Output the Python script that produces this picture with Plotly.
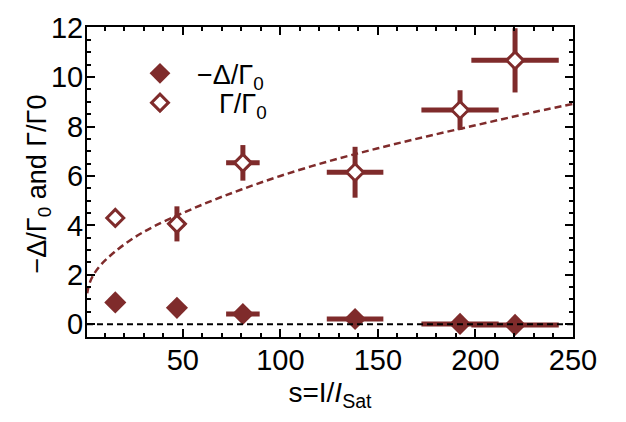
import plotly.graph_objects as go

# Saturation parameter s = I / I_sat for each measurement
s_vals = [15.4, 47.0, 80.8, 138.3, 192.1, 220.3]
s_err = [0.0, 4.0, 8.6, 14.5, 19.8, 22.4]

# Linewidth Gamma/Gamma0 and shift -Delta/Gamma0
gamma_ratio = [4.30, 4.06, 6.53, 6.15, 8.67, 10.68]
gamma_err = [0.0, 0.71, 0.72, 1.03, 0.80, 1.30]
neg_delta_ratio = [0.88, 0.66, 0.41, 0.21, 0.01, -0.03]

# Power-broadening model curve
model_s = [1, 2, 4, 8, 15, 25, 35, 50, 65, 80, 100, 125, 150, 175, 200, 225, 250]
model_gamma = [1.25, 1.6, 1.97, 2.4, 2.92, 3.5, 3.95, 4.5, 5.0, 5.45, 6.0, 6.6,
               7.12, 7.6, 8.05, 8.5, 8.92]

x_ticks = [50, 100, 150, 200, 250]
y_ticks = [0, 2, 4, 6, 8, 10, 12]

BROWN = "#7f2b2b"
FONT = "Liberation Sans, Arial, sans-serif"

fig = go.Figure()

fig.add_trace(go.Scatter(
    x=model_s, y=model_gamma, mode="lines", line_shape="spline",
    line=dict(color=BROWN, width=2.5, dash="7px,4px"),
    showlegend=False, hoverinfo="skip",
))

fig.add_trace(go.Scatter(
    x=s_vals, y=neg_delta_ratio, mode="markers",
    name="\u2212\u0394/\u0393<sub>0</sub>", legend="legend",
    marker=dict(symbol="diamond", size=17, color=BROWN, line=dict(width=0)),
    error_x=dict(type="data", array=s_err, color=BROWN, thickness=5, width=0),
))

fig.add_trace(go.Scatter(
    x=s_vals, y=gamma_ratio, mode="markers",
    name="\u0393/\u0393<sub>0</sub>", legend="legend2",
    marker=dict(symbol="diamond", size=13, color="white",
                line=dict(width=3, color=BROWN)),
    error_x=dict(type="data", array=s_err, color=BROWN, thickness=5, width=0),
    error_y=dict(type="data", array=gamma_err, color=BROWN, thickness=5, width=0),
))

# zero reference line
fig.add_shape(type="line", xref="paper", yref="y", x0=0, x1=1, y0=0, y1=0,
              line=dict(color="black", width=2, dash="6px,4px"), layer="above")

axis_common = dict(
    showgrid=False, zeroline=False, showline=True, linecolor="black",
    linewidth=2, mirror="allticks", ticks="inside", ticklen=8, tickwidth=1.5,
    tickcolor="black", tickfont=dict(family=FONT, size=29, color="black"),
    ticklabeloverflow="allow",
)

fig.update_xaxes(
    range=[0.9, 250], tickvals=x_ticks, ticklabelstandoff=-4,
    minor=dict(dtick=10, ticks="inside", ticklen=4, tickcolor="black", tickwidth=1.5),
    title=dict(text="s=I/<i>I</i><sub>Sat</sub>",
               font=dict(family=FONT, size=28, color="black"), standoff=8),
    **axis_common,
)
fig.update_yaxes(
    range=[-0.52, 12.03], tickvals=y_ticks, ticklabelstandoff=-4,
    minor=dict(dtick=0.5, ticks="inside", ticklen=4, tickcolor="black", tickwidth=1.5),
    **axis_common,
)

# y-axis title
fig.add_annotation(
    text="\u2212\u0394/\u0393<sub>0</sub> and \u0393/\u03930",
    xref="paper", yref="paper", x=-0.0987, y=0.492,
    xanchor="center", yanchor="middle", textangle=-90, showarrow=False,
    font=dict(family=FONT, size=27, color="black"),
)

legend_common = dict(
    xanchor="left", yanchor="middle", bgcolor="rgba(0,0,0,0)",
    font=dict(family=FONT, size=27, color="black"),
)

fig.update_layout(
    width=626, height=422,
    margin=dict(l=87, r=53, t=14, b=85),
    paper_bgcolor="white", plot_bgcolor="white",
    font=dict(family=FONT, color="black"),
    legend=dict(x=(123 - 87) / 486.3, y=0.849, itemwidth=64, **legend_common),
    legend2=dict(x=(101 - 87) / 486.3, y=0.7545, itemwidth=108, **legend_common),
)

fig.write_html("out.html")
